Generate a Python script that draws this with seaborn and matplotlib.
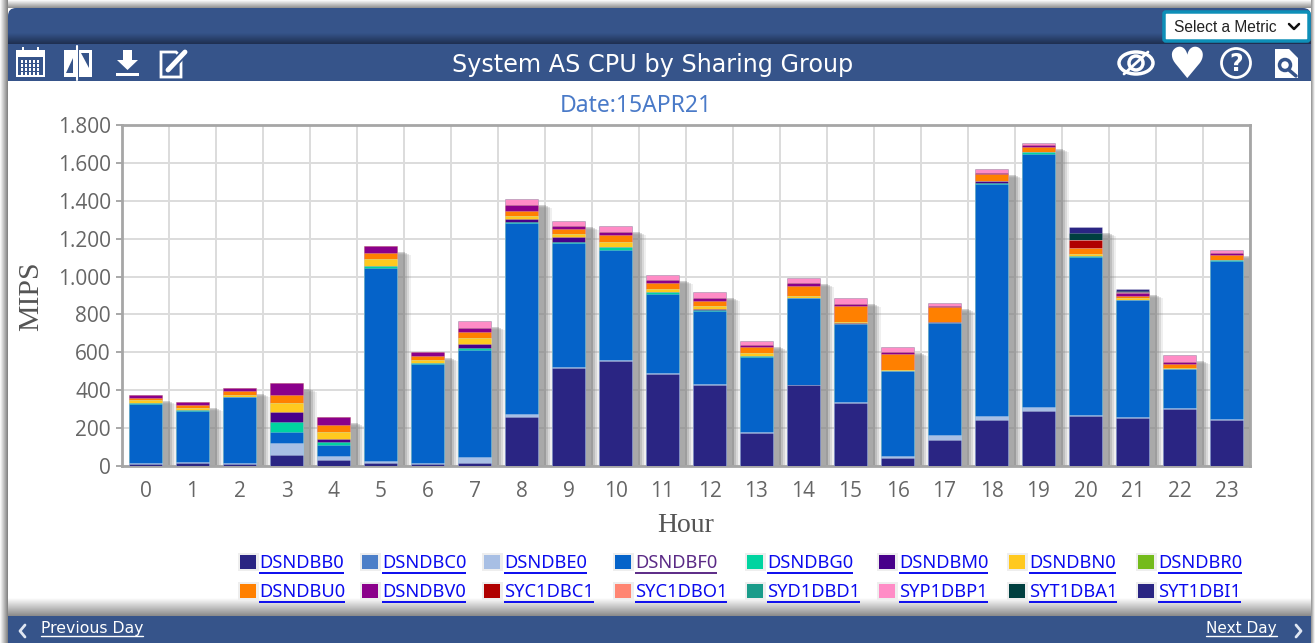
import numpy as np
import pandas as pd
import seaborn as sns
import matplotlib
matplotlib.use("Agg")
import matplotlib.pyplot as plt
from matplotlib.patches import Rectangle, FancyBboxPatch, Circle, Ellipse, Polygon
from matplotlib.transforms import ScaledTranslation
from matplotlib.ticker import FixedLocator, FixedFormatter

hours = list(range(24))
y_ticks = [0, 200, 400, 600, 800, 1000, 1200, 1400, 1600, 1800]
y_labels = ["0", "200", "400", "600", "800", "1.000", "1.200", "1.400", "1.600", "1.800"]
title = "System AS CPU by Sharing Group"
subtitle = "Date:15APR21"

DSNDBB0 = [8, 15, 10, 58, 32, 18, 8, 15, 260, 515, 555, 485, 430, 175, 425, 335, 40, 135, 245, 290, 265, 255, 300, 245]
DSNDBC0 = [0] * 24
DSNDBE0 = [6, 5, 6, 65, 23, 10, 6, 30, 15, 5, 5, 5, 5, 5, 5, 5, 15, 30, 20, 20, 5, 5, 5, 3]
DSNDBF0 = [314, 272, 346, 57, 55, 1017, 525, 565, 1008, 657, 581, 418, 385, 395, 455, 410, 445, 590, 1222, 1337, 835, 615, 205, 835]
DSNDBG0 = [3, 3, 3, 53, 17, 12, 6, 15, 7, 7, 17, 11, 5, 5, 3, 2, 2, 2, 5, 9, 2, 2, 0, 2]
DSNDBM0 = [0, 0, 0, 51, 16, 0, 0, 20, 12, 27, 0, 0, 5, 0, 0, 3, 0, 3, 15, 0, 0, 0, 0, 0]
DSNDBN0 = [15, 12, 12, 49, 35, 38, 15, 30, 18, 12, 22, 14, 16, 15, 12, 5, 3, 0, 0, 0, 12, 8, 5, 5]
DSNDBR0 = [0] * 24
DSNDBU0 = [15, 17, 18, 42, 37, 30, 20, 30, 28, 27, 41, 32, 27, 35, 50, 85, 85, 80, 33, 30, 30, 15, 25, 25]
DSNDBV0 = [15, 14, 15, 65, 44, 35, 20, 25, 30, 19, 16, 17, 16, 10, 15, 10, 10, 5, 9, 8, 0, 15, 8, 8]
SYC1DBC1 = [0, 0, 0, 0, 0, 0, 0, 0, 0, 0, 0, 0, 0, 0, 0, 0, 0, 0, 0, 0, 46, 0, 0, 0]
SYC1DBO1 = [0] * 24
SYD1DBD1 = [0] * 24
SYP1DBP1 = [0, 0, 0, 0, 0, 0, 0, 35, 30, 26, 30, 26, 31, 20, 28, 30, 30, 15, 19, 9, 0, 5, 37, 17]
SYT1DBA1 = [0, 0, 0, 0, 0, 0, 0, 0, 0, 0, 0, 0, 0, 0, 0, 0, 0, 0, 0, 0, 35, 5, 0, 0]
SYT1DBI1 = [0, 0, 0, 0, 0, 0, 0, 0, 0, 0, 0, 0, 0, 0, 0, 0, 0, 0, 0, 0, 33, 9, 0, 0]

names = ["DSNDBB0", "DSNDBC0", "DSNDBE0", "DSNDBF0", "DSNDBG0", "DSNDBM0", "DSNDBN0", "DSNDBR0",
         "DSNDBU0", "DSNDBV0", "SYC1DBC1", "SYC1DBO1", "SYD1DBD1", "SYP1DBP1", "SYT1DBA1", "SYT1DBI1"]
series = [DSNDBB0, DSNDBC0, DSNDBE0, DSNDBF0, DSNDBG0, DSNDBM0, DSNDBN0, DSNDBR0,
          DSNDBU0, DSNDBV0, SYC1DBC1, SYC1DBO1, SYD1DBD1, SYP1DBP1, SYT1DBA1, SYT1DBI1]
colors = ["#2a2583", "#4c7fc8", "#a8bfe4", "#0563c9", "#00d4a0", "#48008a", "#ffc91f", "#74bb1c",
          "#ff8000", "#8b008b", "#b00000", "#ff8572", "#1a9c8a", "#ff8cc6", "#003f3f", "#2a2583"]

sns.set_theme(style="white")
plt.rcParams["font.family"] = ["Noto Sans", "DejaVu Sans"]

W, H = 1315, 643
BLUE = "#36548a"
fig = plt.figure(figsize=(W / 100, H / 100), dpi=100, facecolor="white")


def overlay(z):
    a = fig.add_axes([0, 0, 1, 1], zorder=z)
    a.set_xlim(0, W)
    a.set_ylim(H, 0)
    a.axis("off")
    a.patch.set_alpha(0)
    return a


bg = overlay(0)
top = overlay(5)


def rect(a, x, y, w, h, c, **k):
    a.add_patch(Rectangle((x, y), w, h, facecolor=c, edgecolor="none", lw=0, **k))


def vfade(a, x, w, y0, y1, c0, c1):
    grad = np.linspace(0, 1, 64)[:, None]
    c0 = np.array(matplotlib.colors.to_rgb(c0))
    c1 = np.array(matplotlib.colors.to_rgb(c1))
    img = (c0[None, None, :] * (1 - grad[..., None]) + c1[None, None, :] * grad[..., None])
    a.imshow(img, extent=(x, x + w, y1, y0), aspect="auto", interpolation="bilinear", zorder=1)
    a.set_xlim(0, W)
    a.set_ylim(H, 0)


def hfade(a, x0, x1, y, h, c0, c1):
    grad = np.linspace(0, 1, 32)[None, :]
    c0 = np.array(matplotlib.colors.to_rgb(c0))
    c1 = np.array(matplotlib.colors.to_rgb(c1))
    img = (c0[None, None, :] * (1 - grad[..., None]) + c1[None, None, :] * grad[..., None])
    a.imshow(img, extent=(x0, x1, y + h, y), aspect="auto", interpolation="bilinear", zorder=1)
    a.set_xlim(0, W)
    a.set_ylim(H, 0)


# page frame and shadows
vfade(bg, 0, W, 0, 8, "#ffffff", "#8f8f8f")
hfade(bg, 0, 8, 0, H, "#ffffff", "#7f7f7f")
hfade(bg, 1311, W, 0, H, "#8f8f8f", "#ffffff")
vfade(bg, 8, 1303, 598, 616, "#ffffff", "#8a8a8a")

rect(bg, 8, 16, 1303, 28, BLUE, zorder=2)
bg.add_patch(FancyBboxPatch((8, 8), 1303, 30, boxstyle="round,pad=0,rounding_size=8",
                            facecolor=BLUE, edgecolor="none", zorder=2))
vfade(bg, 8, 1303, 33, 44, BLUE, "#1e2f50")
bg.images[-1].set_zorder(3)
rect(bg, 8, 44, 1303, 37, BLUE, zorder=3)
rect(bg, 8, 616, 1303, 27, BLUE, zorder=3)

# chart
L, R, T, B = 122, 1250, 125, 466
ax = fig.add_axes([L / W, 1 - B / H, (R - L) / W, (B - T) / H], zorder=2)
ax.set_facecolor("white")

table = pd.DataFrame(dict(zip(names, series)), index=hours)
cum = table.cumsum(axis=1)
totals = cum[names[-1]]

# soft drop shadow of each stack
for dx, dy, alpha in [(14, 9, 0.12), (12, 8, 0.2), (10, 7, 0.28), (8, 6, 0.35)]:
    before = len(ax.patches)
    sns.barplot(x=hours, y=totals.values, order=hours, color="#808080", saturation=1,
                width=0.7, alpha=alpha, errorbar=None, ax=ax, linewidth=0, zorder=2)
    off = ScaledTranslation(dx / 100, -dy / 100, fig.dpi_scale_trans)
    for p in ax.patches[before:]:
        p.set_transform(ax.transData + off)

# stacks: painted from the tallest cumulative down
for name, col in reversed(list(zip(names, colors))):
    sns.barplot(x=hours, y=cum[name].values, order=hours, color=col, saturation=1, width=0.7,
                errorbar=None, ax=ax, linewidth=0.5, edgecolor=(1, 1, 1, 0.3), zorder=3)

ax.set_xlim(-0.5, 23.5)
ax.set_ylim(0, 1800)
ax.set_xlabel("")
ax.set_ylabel("")
ax.yaxis.set_major_locator(FixedLocator(y_ticks))
ax.yaxis.set_major_formatter(FixedFormatter(y_labels))
ax.xaxis.set_major_locator(FixedLocator(hours))
ax.xaxis.set_major_formatter(FixedFormatter([str(h) for h in hours]))
ax.xaxis.set_minor_locator(FixedLocator([h - 0.5 for h in hours + [24]]))
ax.grid(False)
ax.grid(True, axis="y", which="major", color="#dcdcdc", lw=1.4, zorder=1)
ax.grid(True, axis="x", which="minor", color="#dcdcdc", lw=1.4, zorder=1)
ax.set_axisbelow(True)
ax.tick_params(axis="x", which="major", length=0, labelsize=15, labelcolor="#666666", pad=11)
ax.tick_params(axis="x", which="minor", length=4, width=1.2, color="#999999")
ax.tick_params(axis="y", which="major", length=4, width=1.2, color="#999999",
               labelsize=15, labelcolor="#666666", pad=4, left=True)
for s in ax.spines.values():
    s.set_visible(True)
    s.set_color("#a6a6a6")
    s.set_linewidth(2)
for lab in ax.get_xticklabels() + ax.get_yticklabels():
    lab.set_fontfamily("Open Sans")

# axis titles
top.text(31, 296, "MIPS", rotation=90, ha="center", va="center", fontsize=21.5,
         family="Liberation Serif", color="#555555")
top.text(686, 526, "Hour", ha="center", va="center", fontsize=20,
         family="Liberation Serif", color="#555555")

# titles
top.text(653, 65, title, ha="center", va="center", fontsize=17.2, color="white", family="DejaVu Sans")
top.text(635.5, 106, subtitle, ha="center", va="center", fontsize=16.5, color="#4a7ac8", family="Noto Sans")

# legend
sw_x = [249, 371, 493, 624, 756, 888, 1018, 1147]
txt_x = [259, 382, 504, 635, 767, 899, 1029, 1158]
row_y = [563, 592]
fig.canvas.draw()
rend = fig.canvas.get_renderer()
for i, (name, col) in enumerate(zip(names, colors)):
    c, r = i % 8, i // 8
    x, y = sw_x[c], row_y[r]
    rect(top, x - 11, y - 10, 21, 18, "#eeeeee")
    rect(top, x - 9, y - 8, 16, 14, col)
    link = "#5b2a86" if name == "DSNDBF0" else "#0b0bee"
    t = top.text(txt_x[c], y, name, ha="left", va="center", fontsize=13.2, color=link, family="Noto Sans")
    e = t.get_window_extent(rend)
    top.plot([txt_x[c], txt_x[c] + e.width], [y + 9.5, y + 9.5], color=link, lw=1.4, solid_capstyle="butt")

# footer links
for x, s, fs in [(41, "Previous Day", 11.3), (1206, "Next Day", 11)]:
    t = top.text(x, 629, s, ha="left", va="center", fontsize=fs, color="white", family="DejaVu Sans")
    e = t.get_window_extent(rend)
    top.plot([x, x + e.width], [636, 636], color="white", lw=1)
top.plot([25, 20, 25], [625, 631, 637], color="#dfe6f2", lw=2)
top.plot([1296, 1301, 1296], [625, 631, 637], color="#dfe6f2", lw=2)

# select box
top.add_patch(FancyBboxPatch((1164, 12), 145, 29, boxstyle="round,pad=0,rounding_size=2",
                             facecolor="white", edgecolor="#0e8fb8", lw=2.5))
top.text(1174, 27.5, "Select a Metric", ha="left", va="center", fontsize=11.2, color="#222222",
         family="Liberation Sans")
top.plot([1289, 1294, 1299], [24, 29, 24], color="#111111", lw=1.8)

# toolbar icons
ic = "white"
rect(top, 16, 50, 29, 27, ic)
rect(top, 18, 57, 25, 18, BLUE)
for yy in (60, 64, 68, 72):
    for xx in (21, 25, 29, 33, 37):
        rect(top, xx, yy, 2.5, 2.5, ic)
for xx in (22, 37):
    rect(top, xx, 47, 2.5, 6, ic)
top.add_patch(Polygon([(64, 50), (76, 50), (76, 77), (64, 77)], facecolor=ic, edgecolor="none"))
top.add_patch(Polygon([(79, 50), (92, 50), (92, 77), (79, 77)], facecolor=ic, edgecolor="none"))
top.plot([77.5, 77.5], [46, 80], color=ic, lw=1.5)
top.add_patch(Polygon([(73, 58), (73, 73), (66, 73)], facecolor=BLUE, edgecolor="none"))
top.add_patch(Polygon([(81, 53), (89, 53), (89, 68)], facecolor=BLUE, edgecolor="none"))
top.add_patch(Polygon([(123, 50), (132, 50), (132, 60), (138, 60), (127.5, 70), (117, 60), (123, 60)],
                      facecolor=ic, edgecolor="none"))
rect(top, 116, 73, 23, 2.5, ic)
top.add_patch(Polygon([(161, 52), (176, 52), (181, 57), (181, 77), (161, 77)], facecolor="none", edgecolor=ic, lw=2))
top.plot([168, 185], [70, 52], color=BLUE, lw=6)
top.plot([168, 185], [70, 52], color=ic, lw=3.5)
top.add_patch(Ellipse((1136, 63), 34, 22, facecolor="none", edgecolor=ic, lw=2.5))
top.add_patch(Circle((1136, 63), 7, facecolor="none", edgecolor=ic, lw=2.5))
top.plot([1124, 1148], [74, 52], color=ic, lw=2)
top.text(1186, 66, "\u2665", ha="center", va="center", fontsize=31, color=ic, family="DejaVu Sans")
top.add_patch(Circle((1236, 63), 14.5, facecolor="none", edgecolor=ic, lw=2))
top.text(1236, 64, "?", ha="center", va="center", fontsize=17, color=ic, family="DejaVu Sans", fontweight="bold")
top.add_patch(Polygon([(1275, 49), (1289, 49), (1298, 58), (1298, 78), (1275, 78)], facecolor=ic, edgecolor="none"))
top.add_patch(Circle((1285, 65), 5.5, facecolor=ic, edgecolor=BLUE, lw=2.5))
top.plot([1289, 1296], [70, 76], color=BLUE, lw=2.5)

fig.savefig("out.png", dpi=100)
